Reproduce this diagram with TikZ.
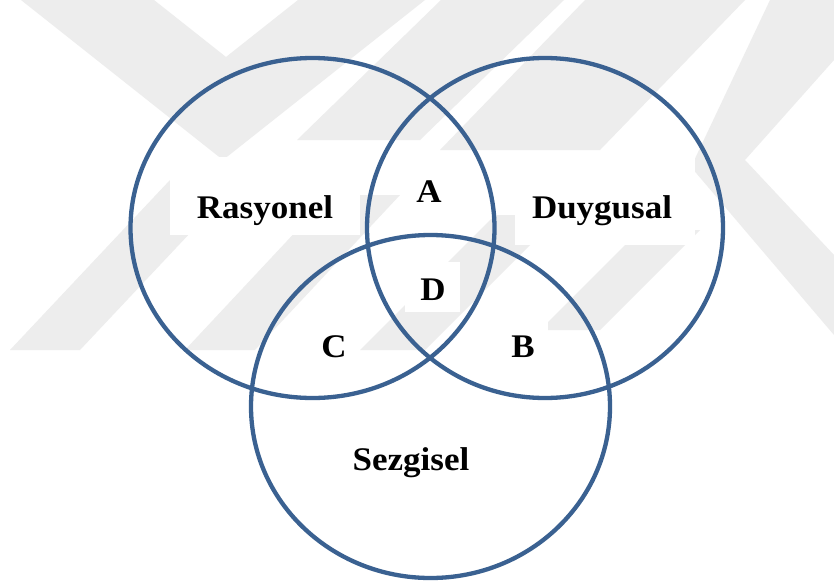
\documentclass[tikz,border=0pt]{standalone}
\usepackage{fontspec}
\setmainfont{Liberation Serif}
\definecolor{ringblue}{HTML}{3A6191}
\definecolor{markgray}{HTML}{EDEDED}
\tikzset{
  ring/.style={draw=ringblue, line width=4.3pt},
  tag/.style={font=\bfseries\fontsize{33}{36}\selectfont, text=black, inner sep=0pt, anchor=base},
  mark/.style={fill=markgray, draw=none},
  knock/.style={fill=white, draw=none}
}
\newcommand{\wide}[1]{\scalebox{1.06}[1]{#1}}
\begin{document}
\begin{tikzpicture}[x=1pt,y=-1pt]
\useasboundingbox (0,0) rectangle (834,583);
\fill[white] (0,0) rectangle (834,583);

% faint background emblem
\fill[markgray] (21,0) -- (154,0) -- (226,57) -- (298,0) -- (425,0) -- (223,160) -- cycle;
\fill[markgray] (441,0) -- (564,0) -- (420,140) -- (297,140) -- cycle;
\fill[markgray] (585,0) -- (745,0) -- (600,150) -- (440,150) -- cycle;
\fill[markgray] (770,0) -- (834,0) -- (834,60) -- (745,160) -- (834,255) -- (834,335) -- (691,167) -- cycle;
\fill[markgray] (10,350) -- (80,350) -- (240,180) -- (170,180) -- cycle;
\fill[markgray] (185,350) -- (255,350) -- (400,195) -- (330,195) -- cycle;
\fill[markgray] (360,350) -- (425,350) -- (560,215) -- (495,215) -- cycle;
\fill[markgray] (540,330) -- (600,330) -- (700,230) -- (640,230) -- cycle;

% white panels behind the labels
\fill[white] (170,157) rectangle (360,235);
\fill[white] (515,157) rectangle (695,245);
\fill[white] (400,168) rectangle (458,215);
\fill[white] (405,262) rectangle (460,312);
\fill[white] (310,322) rectangle (358,370);
\fill[white] (498,322) rectangle (548,370);

% the three sets
\draw[ring] (312.5,228) ellipse [x radius=182, y radius=170];
\draw[ring] (545,228) ellipse [x radius=178, y radius=170];
\draw[ring] (430.5,406.5) ellipse [x radius=179.5, y radius=171.5];

% labels
\node[tag] (rasyonel) at (265,218) {\wide{Rasyonel}};
\node[tag] (duygusal) at (602,218) {\wide{Duygusal}};
\node[tag] (sezgisel) at (411,470) {\wide{Sezgisel}};
\node[tag] (a) at (429,202) {\wide{A}};
\node[tag] (d) at (433,300) {\wide{D}};
\node[tag] (c) at (334,357) {\wide{C}};
\node[tag] (b) at (523,357) {\wide{B}};
\end{tikzpicture}
\end{document}
